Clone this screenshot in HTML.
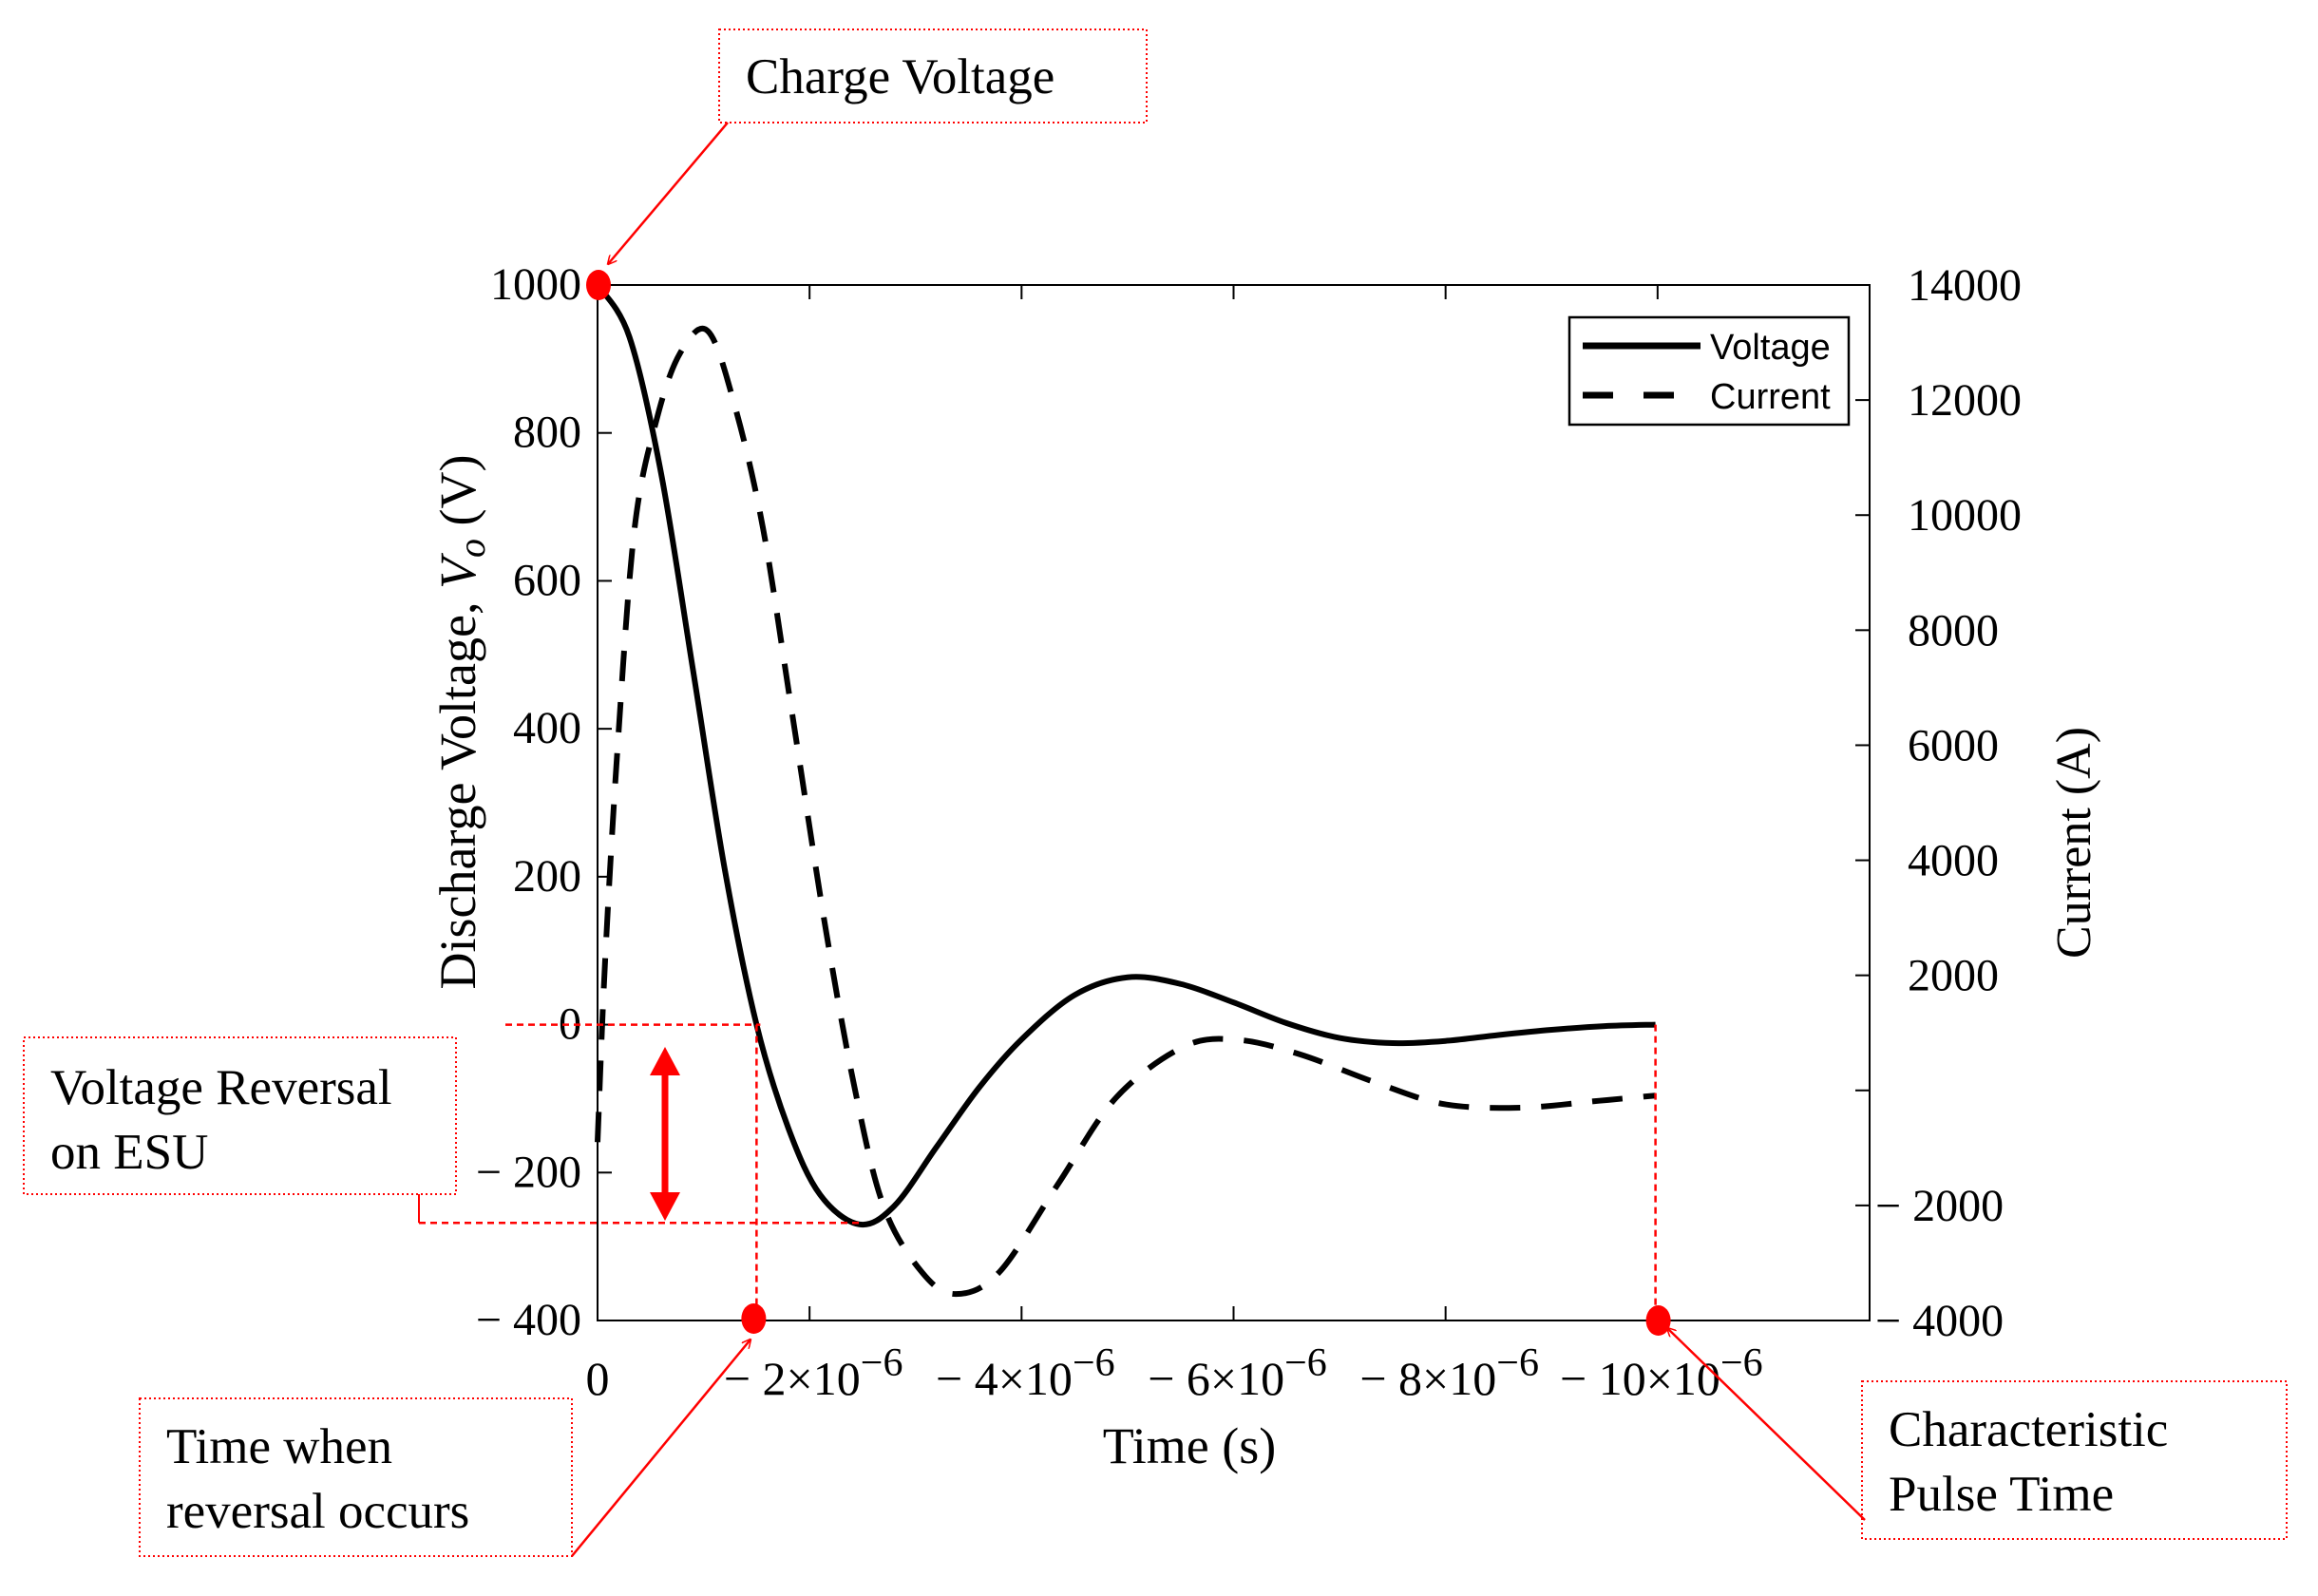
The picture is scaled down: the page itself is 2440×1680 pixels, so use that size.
<!DOCTYPE html>
<html><head><meta charset="utf-8"><style>
html,body{margin:0;padding:0;background:#fff;}
svg{display:block;}
.serif{font-family:"Liberation Serif",serif;}
.sans{font-family:"Liberation Sans",sans-serif;}
</style></head><body>
<svg id="chart" width="2440" height="1680" viewBox="0 0 2440 1680" xmlns="http://www.w3.org/2000/svg">
<defs>
<marker id="ah" markerWidth="10" markerHeight="10" refX="9" refY="5" orient="auto" markerUnits="userSpaceOnUse" viewBox="0 0 10 10">
<path d="M0,0 L10,5 L0,10" fill="none" stroke="red" stroke-width="1.5"/></marker>
</defs>
<g id="plot"></g>
</svg>
<script>
const voltT = [0,0.3,0.6,0.9,1.2,1.5,1.8,2.1,2.47,2.8,3.2,3.6,4.0,4.5,5.0,5.5,6.0,6.5,7.0,7.5,8.0,8.5,9.0,9.5,9.98];
const voltV = [1000,930,745,480,210,0,-140,-230,-270,-245,-165,-85,-20,40,64,55,30,2,-18,-25,-22,-14,-7,-2,0];
const curT = [0,0.07,0.19,0.35,0.56,0.78,1.04,1.29,1.56,1.83,2.15,2.43,2.70,3.06,3.38,3.79,4.34,4.89,5.53,6.03,6.62,7.35,7.99,8.72,9.45,9.98];
const curI = [-900,2200,5990,9780,11680,12820,13200,11930,9780,6620,2830,0,-2020,-3160,-3540,-3160,-1640,-130,760,880,630,130,-240,-300,-180,-90];
const xTicks = [0,2,4,6,8,10];
const xTickLabels = ["0","− 2×10","− 4×10","− 6×10","− 8×10","− 10×10"];
const yLeftTicks = [1000,800,600,400,200,0,-200,-400];
const yLeftLabels = ["1000","800","600","400","200","0","− 200","− 400"];
const yRightTicks = [14000,12000,10000,8000,6000,4000,2000,0,-2000,-4000];
const yRightLabels = ["14000","12000","10000","8000","6000","4000","2000","","− 2000","− 4000"];

const L=629,R=1968,T=300,B=1390;
const xs = t => L + t/12*(R-L);
const yL = v => T + (1000-v)/1400*(B-T);
const yR = a => T + (14000-a)/18000*(B-T);
const svg=document.getElementById('chart');
const NS='http://www.w3.org/2000/svg';
function mk(tag,attrs,parent){const e=document.createElementNS(NS,tag);for(const k in attrs)e.setAttribute(k,attrs[k]);(parent||svg).appendChild(e);return e;}
function txt(s,attrs){const e=mk('text',attrs);e.textContent=s;return e;}
function smooth(px,py){
  let d=`M${px[0]},${py[0]}`;
  for(let i=0;i<px.length-1;i++){
    const x0=px[Math.max(i-1,0)],y0=py[Math.max(i-1,0)],x1=px[i],y1=py[i],x2=px[i+1],y2=py[i+1],x3=px[Math.min(i+2,px.length-1)],y3=py[Math.min(i+2,px.length-1)];
    d+=` C${x1+(x2-x0)/6},${y1+(y2-y0)/6} ${x2-(x3-x1)/6},${y2-(y3-y1)/6} ${x2},${y2}`;
  }
  return d;
}
let e=mk('rect',{x:L,y:T,width:R-L,height:B-T,fill:'none',stroke:'#000','stroke-width':2});

xTicks.forEach((t,i)=>{
  const x=xs(t);
  mk('line',{x1:x,y1:B,x2:x,y2:B-15,stroke:'#000','stroke-width':2});
  mk('line',{x1:x,y1:T,x2:x,y2:T+15,stroke:'#000','stroke-width':2});
  const g=txt(xTickLabels[i],{x:i==0?x:x+4,y:1468,'text-anchor':'middle','font-size':50,class:'serif'});
  
  if(i>0){const s=document.createElementNS(NS,'tspan');s.setAttribute('dy','-20');s.setAttribute('font-size','42');s.textContent='−6';g.appendChild(s);}
});
yLeftTicks.forEach((v,i)=>{
  const y=yL(v);
  mk('line',{x1:L,y1:y,x2:L+15,y2:y,stroke:'#000','stroke-width':2});
  const g=txt(yLeftLabels[i],{x:612,y:y+15,'text-anchor':'end','font-size':48,class:'serif'});
  
});
yRightTicks.forEach((a,i)=>{
  const y=yR(a);
  mk('line',{x1:R,y1:y,x2:R-15,y2:y,stroke:'#000','stroke-width':2});
  const lab=yRightLabels[i];
  const g=txt(lab,{x:lab.startsWith('−')?1974:2008,y:y+16,'font-size':48,class:'serif'});
  
});
e=mk('path',{d:smooth(curT.map(xs),curI.map(yR)),fill:'none',stroke:'#000','stroke-width':6,'stroke-dasharray':'32 22'});

e=mk('path',{d:smooth(voltT.map(xs),voltV.map(yL)),fill:'none',stroke:'#000','stroke-width':6});

e=txt('',{transform:'translate(500,760) rotate(-90)','text-anchor':'middle','font-size':54,class:'serif'});
e.innerHTML='Discharge Voltage, <tspan font-style="italic">V</tspan><tspan font-style="italic" font-size="40" dy="10">o</tspan><tspan dy="-10">  (V)</tspan>';

e=txt('Current (A)',{transform:'translate(2200,887) rotate(-90)','text-anchor':'middle','font-size':52,class:'serif'});

e=txt('Time (s)',{x:1252,y:1540,'text-anchor':'middle','font-size':54,class:'serif'});

const lg=mk('g',{});
mk('rect',{x:1652,y:334,width:294,height:113,fill:'#fff',stroke:'#000','stroke-width':2.5},lg);
mk('line',{x1:1666,y1:364,x2:1790,y2:364,stroke:'#000','stroke-width':7},lg);
mk('line',{x1:1666,y1:416,x2:1790,y2:416,stroke:'#000','stroke-width':7,'stroke-dasharray':'32 32'},lg);
e=mk('text',{x:1800,y:378,'font-size':38,class:'sans'},lg);e.textContent='Voltage';

e=mk('text',{x:1800,y:430,'font-size':38,class:'sans'},lg);e.textContent='Current';

const ann=mk('g',{});
const y0=yL(0), ymin=yL(-268), xr=xs(1.5), xp=xs(9.98);
mk('line',{x1:532,y1:y0,x2:xr+4,y2:y0,stroke:'red','stroke-width':2.5,'stroke-dasharray':'7 5'},ann);
mk('line',{x1:xr,y1:y0,x2:xr,y2:B,stroke:'red','stroke-width':2.5,'stroke-dasharray':'7 5'},ann);
mk('line',{x1:441,y1:ymin,x2:907,y2:ymin,stroke:'red','stroke-width':2.5,'stroke-dasharray':'7 5'},ann);
mk('line',{x1:441,y1:1257,x2:441,y2:ymin,stroke:'red','stroke-width':2},ann);
mk('line',{x1:xp,y1:y0,x2:xp,y2:B,stroke:'red','stroke-width':2.5,'stroke-dasharray':'7 5'},ann);
mk('line',{x1:700,y1:1125,x2:700,y2:1262,stroke:'red','stroke-width':7},ann);
mk('path',{d:'M684,1132 L700,1102 L716,1132 Z M684,1255 L700,1285 L716,1255 Z',fill:'red'},ann);
[[630,300],[xr-3,1388],[xp+3,1390]].forEach(p=>{const c=mk('ellipse',{cx:p[0],cy:p[1],rx:13,ry:16,fill:'red'},ann);});
function box(x,y,w,h,lines,ty,name){
  const g=mk('g',{},ann);
  mk('rect',{x,y,width:w,height:h,fill:'#fff',stroke:'red','stroke-width':2,'stroke-dasharray':'2 3'},g);
  lines.forEach((l,i)=>{const t=mk('text',{x:x+28,y:ty+i*68,'font-size':53,class:'serif'},g);t.textContent=l;});
}
box(757,31,450,98,['Charge Voltage'],98,'charge-voltage-callout');
box(25,1092,455,165,['Voltage Reversal','on ESU'],1162,'voltage-reversal-callout');
box(147,1472,455,166,['Time when','reversal occurs'],1540,'reversal-time-callout');
box(1960,1454,447,166,['Characteristic','Pulse Time'],1522,'pulse-time-callout');
mk('line',{x1:766,y1:129,x2:640,y2:278,stroke:'red','stroke-width':2.5,'marker-end':'url(#ah)'},ann);
mk('line',{x1:602,y1:1638,x2:790,y2:1410,stroke:'red','stroke-width':2.5,'marker-end':'url(#ah)'},ann);
mk('line',{x1:1963,y1:1600,x2:1755,y2:1398,stroke:'red','stroke-width':2.5,'marker-end':'url(#ah)'},ann);
</script>
</body></html>
